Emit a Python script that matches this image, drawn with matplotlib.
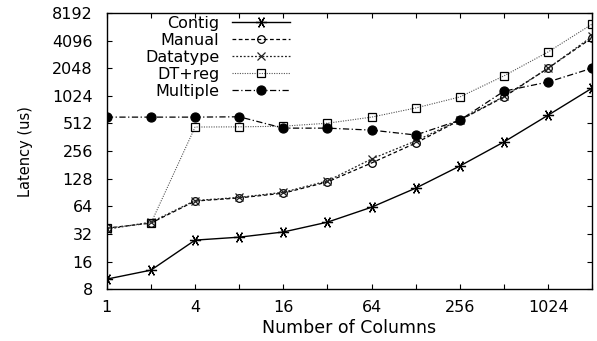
import matplotlib
matplotlib.use('Agg')
import matplotlib.pyplot as plt

plt.rcParams['font.family'] = ['DejaVu Sans']

# number of columns (log2 axis)
cols = [1, 2, 4, 8, 16, 32, 64, 128, 256, 512, 1024, 2048]

# latency in us
contig   = [10.3, 12.9, 27.4, 29.5, 33.6, 43, 62.6, 101, 176, 322, 630, 1245]
manual   = [37, 42, 73, 79, 89, 118, 190, 313, 556, 995, 2050, 4400]
datatype = [36, 43, 74, 80, 91, 121, 210, 330, 560, 1010, 2050, 4550]
dtreg    = [37, 42, 468, 470, 478, 515, 600, 755, 995, 1690, 3080, 6200]
multiple = [600, 600, 600, 605, 455, 455, 433, 383, 556, 1150, 1450, 2050]

xticks = [1, 4, 16, 64, 256, 1024]
yticks = [8, 16, 32, 64, 128, 256, 512, 1024, 2048, 4096, 8192]

fig = plt.figure(figsize=(5.97, 3.41), dpi=100)
ax = fig.add_axes([0.179, 0.152, 0.813, 0.810])

ax.plot(cols, contig, color='black', lw=1.0, ls='-', marker=(6, 2, 90),
        ms=8, mew=0.9, label='Contig')
ax.plot(cols, manual, color='black', lw=0.9, ls=(0, (3, 2)), marker='o',
        ms=5.5, mfc='none', mew=0.9, label='Manual')
ax.plot(cols, datatype, color='#222222', lw=0.9, ls=(0, (1.5, 1.5)), marker='x',
        ms=6, mew=0.9, label='Datatype')
ax.plot(cols, dtreg, color='#555555', lw=0.8, ls=(0, (1, 1.2)), marker='s',
        ms=5.5, mfc='none', mec='black', mew=0.9, label='DT+reg')
ax.plot(cols, multiple, color='black', lw=0.9, ls=(0, (5, 2, 1, 2)), marker='o',
        ms=6.5, mfc='black', mew=0.9, label='Multiple')

ax.set_xscale('log', base=2)
ax.set_yscale('log', base=2)
ax.set_xlim(1, 2048)
ax.set_ylim(8, 8192)

ax.set_xticks(cols, minor=True)
ax.set_xticks(xticks)
ax.set_xticklabels([str(v) for v in xticks])
ax.set_yticks(yticks)
ax.set_yticklabels([str(v) for v in yticks])
ax.tick_params(axis='both', which='both', direction='in', top=True, right=True,
               labelsize=11.5, length=3.5, width=0.8)
ax.tick_params(axis='x', which='minor', labelbottom=False)
ax.tick_params(axis='x', pad=8)
ax.tick_params(axis='y', pad=10)
for s in ax.spines.values():
    s.set_linewidth(1.0)

ax.set_xlabel('Number of Columns', fontsize=12.5, labelpad=3)
ax.set_ylabel('Latency (us)', fontsize=10.5, labelpad=14)

ax.legend(loc='upper right', bbox_to_anchor=(0.38, 0.995), frameon=False,
          markerfirst=False, fontsize=11.5, handlelength=3.6,
          handletextpad=0.8, labelspacing=0.12, borderpad=0.0,
          borderaxespad=0.1)

fig.savefig('out.png', dpi=100)
